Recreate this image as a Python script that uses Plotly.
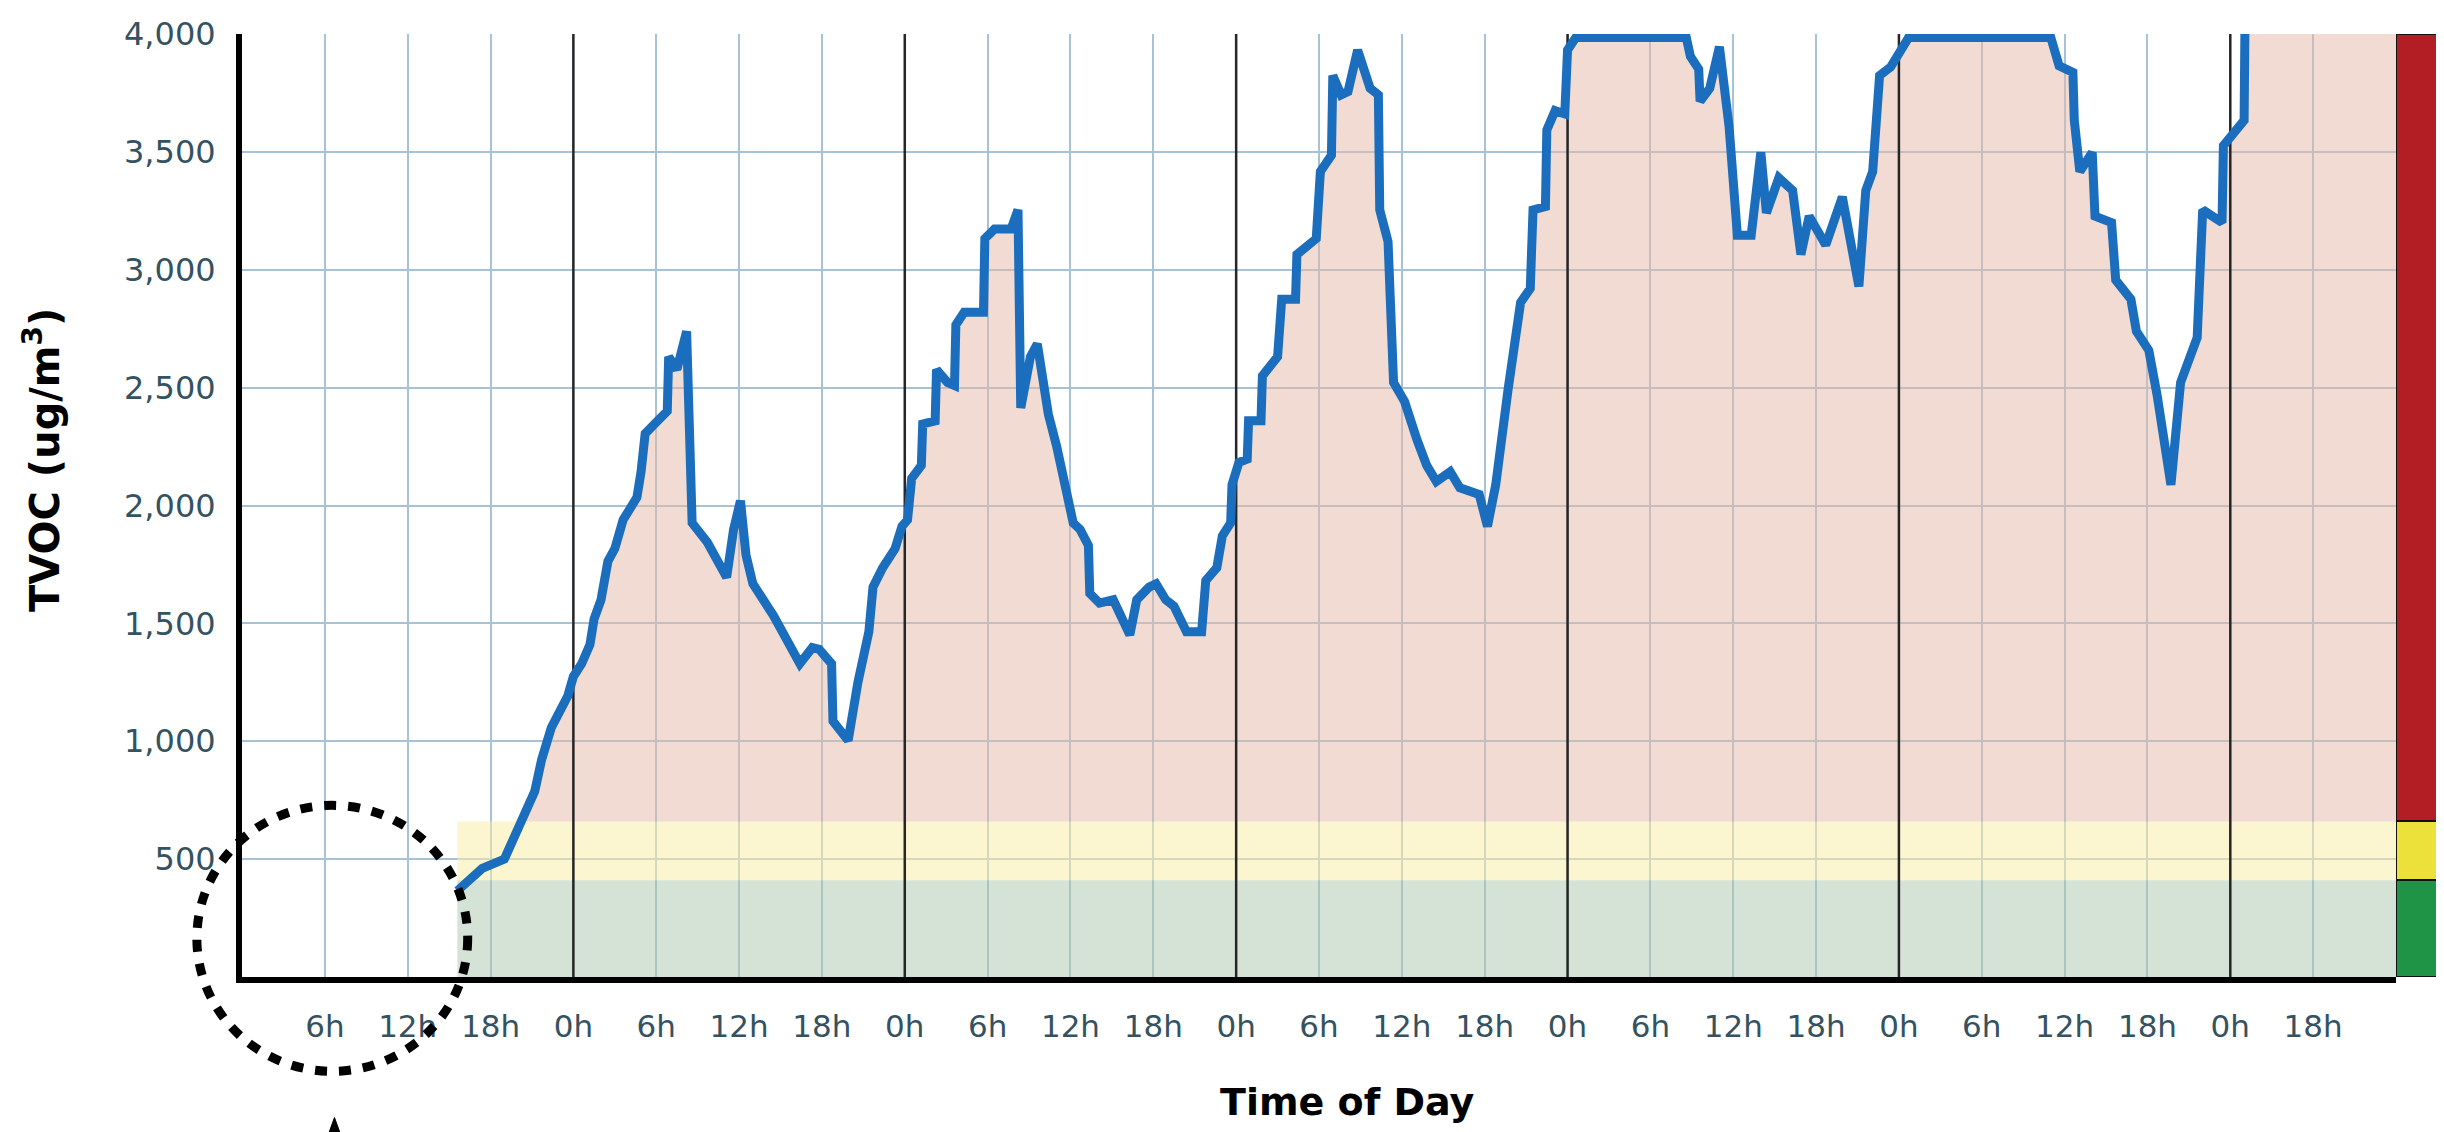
import numpy as np
import plotly.graph_objects as go

# ---------------- data ----------------
hours = [15.6, 17.4, 19.0, 20.0, 21.2, 21.7, 22.4, 23.6, 24.0, 24.6, 25.2, 25.5, 26.0, 26.5,
         27.0, 27.6, 28.1, 28.6, 28.9, 29.2, 30.1, 30.8, 30.9, 31.5, 32.2, 32.6, 33.7, 35.1,
         35.6, 36.1, 36.5, 37.0, 38.5, 39.4, 40.4, 41.3, 41.8, 42.7, 42.8, 43.9, 44.6, 45.4,
         45.7, 46.4, 47.3, 47.8, 48.2, 48.5, 49.2, 49.3, 50.2, 50.3, 51.1, 51.6, 51.7, 52.3,
         53.7, 53.8, 54.5, 55.7, 56.2, 56.4, 57.1, 57.6, 58.4, 59.0, 59.8, 60.2, 60.7, 61.3,
         61.4, 62.1, 63.1, 63.8, 64.3, 64.8, 65.7, 66.2, 66.9, 67.5, 68.4, 69.5, 69.8, 70.6,
         71.0, 71.6, 71.7, 72.2, 72.8, 72.9, 73.8, 73.9, 75.0, 75.3, 76.3, 76.4, 77.8, 78.1,
         78.9, 79.0, 79.6, 80.1, 80.8, 81.7, 82.3, 82.4, 83.0, 83.4, 84.2, 85.1, 85.8, 86.5,
         87.5, 88.2, 89.6, 90.2, 90.8, 91.7, 92.0, 92.5, 92.6, 93.3, 93.5, 94.4, 94.5, 95.1,
         95.8, 96.0, 96.6, 104.6, 104.9, 105.5, 105.6, 106.3, 107.0, 107.7, 108.3, 109.3,
         110.0, 110.4, 111.3, 112.3, 112.9, 113.5, 114.7, 115.9, 117.1, 117.6, 118.1, 118.6,
         119.4, 120.7, 131.0, 131.6, 132.6, 132.7, 133.1, 134.0, 134.2, 135.4, 135.7, 136.8,
         137.2, 138.1, 138.7, 139.7, 140.4, 141.6, 142.0, 143.4, 143.5, 145.0, 145.1, 156.0]

tvoc = [366, 461, 500, 624, 787, 922, 1058, 1193, 1275, 1329, 1410, 1519, 1600, 1763,
        1817, 1939, 1980, 2034, 2143, 2305, 2359, 2400, 2631, 2577, 2739, 1926, 1844, 1695,
        1898, 2020, 1790, 1668, 1532, 1437, 1329, 1397, 1390, 1329, 1085, 1003, 1248, 1465,
        1654, 1736, 1817, 1912, 1939, 2115, 2170, 2346, 2359, 2576, 2522, 2509, 2766, 2820,
        2820, 3132, 3173, 3173, 3254, 2414, 2631, 2685, 2387, 2251, 2034, 1926, 1898, 1831,
        1627, 1586, 1600, 1505, 1451, 1600, 1654, 1668, 1600, 1573, 1465, 1465, 1682, 1736,
        1871, 1926, 2088, 2183, 2197, 2360, 2360, 2550, 2631, 2875, 2875, 3065, 3132, 3417,
        3485, 3824, 3742, 3756, 3932, 3770, 3742, 3254, 3119, 2522, 2441, 2278, 2170, 2102,
        2143, 2075, 2047, 1912, 2088, 2495, 2631, 2848, 2861, 2920, 3254, 3268, 3593, 3675,
        3661, 3932, 3985, 3985, 3905, 3851, 3715, 3770, 3946, 3607, 3146, 3146,
        3498, 3241, 3390, 3336, 3065, 3227, 3105, 3309, 2929, 3336, 3417, 3824,
        3860, 3985, 3985, 3865, 3837, 3634, 3417, 3498, 3227, 3200, 2956, 2875,
        2739, 2658, 2468, 2088, 2522, 2712, 3254, 3200, 3526, 3634, 4300, 4300]

x_range = [0, 156]
tick_hours = [6, 12, 18, 24, 30, 36, 42, 48, 54, 60, 66, 72, 78, 84, 90, 96, 102, 108,
              114, 120, 126, 132, 138, 144, 150]
tick_labels = ["6h", "12h", "18h", "0h", "6h", "12h", "18h", "0h", "6h", "12h", "18h", "0h",
               "6h", "12h", "18h", "0h", "6h", "12h", "18h", "0h", "6h", "12h", "18h", "0h",
               "18h"]
day_lines = [24, 48, 72, 96, 120, 144]
y_ticks = [500, 1000, 1500, 2000, 2500, 3000, 3500, 4000]
y_max = 4000

# air-quality bands (upper limit of each band)
band_good = 410
band_moderate = 660
band_bar_colors = ["#1f9447", "#ece03a", "#b31e24"]

# ---------------- styles ----------------
LINE_BLUE = "#1b6ebe"
GRID = "#a8c2d5"
TICK_COL = "#34525f"
FONT = "DejaVu Sans"

band_x = [hours[0], x_range[1]]

fig = go.Figure()
fig.add_trace(go.Scatter(x=band_x, y=[band_good, band_good], mode="lines",
                         line=dict(width=0), fill="tozeroy",
                         fillcolor="rgba(172,200,174,0.5)", hoverinfo="skip",
                         showlegend=False))
fig.add_trace(go.Scatter(x=band_x, y=[band_moderate, band_moderate], mode="lines",
                         line=dict(width=0), fill="tonexty",
                         fillcolor="rgba(247,236,170,0.55)", hoverinfo="skip",
                         showlegend=False))
fig.add_trace(go.Scatter(x=hours, y=np.maximum(np.array(tvoc), band_moderate), mode="lines",
                         line=dict(width=0), fill="tonexty",
                         fillcolor="rgba(228,184,168,0.5)", hoverinfo="skip",
                         showlegend=False))

# dark midnight lines (drawn above the shading, below the data line)
day_x, day_y = [], []
for d in day_lines:
    day_x += [d, d, None]
    day_y += [0, y_max, None]
fig.add_trace(go.Scatter(x=day_x, y=day_y, mode="lines",
                         line=dict(color="#262626", width=2.5), hoverinfo="skip",
                         showlegend=False))

fig.add_trace(go.Scatter(x=hours, y=tvoc, mode="lines",
                         line=dict(color=LINE_BLUE, width=9), showlegend=False))

# colour scale bar at the right, drawn on a narrow second x-axis sharing the y-axis
limits = [0, band_good, band_moderate, y_max]
for i in range(3):
    fig.add_trace(go.Bar(x=[0], y=[limits[i + 1] - limits[i]], base=[limits[i]],
                         xaxis="x2", yaxis="y", marker=dict(color=band_bar_colors[i],
                         line=dict(color="#111111", width=2)), width=1,
                         showlegend=False, hoverinfo="skip"))

# dotted circle highlight and arrow head below it
fig.add_shape(type="circle", xref="paper", yref="paper",
              x0=-0.0205, x1=0.1025, y0=-0.100, y1=0.182,
              line=dict(color="black", width=9, dash="12px,12px"), layer="above")
fig.add_shape(type="path", xref="paper", yref="paper",
              path="M 0.0375,-0.178 L 0.0420,-0.149 L 0.0465,-0.178 Z",
              fillcolor="black", line=dict(color="black", width=1), layer="above")

# axis titles
fig.add_annotation(xref="paper", yref="paper", x=0.502, y=-0.133, text="<b>Time of Day</b>",
                   showarrow=False, font=dict(family=FONT, size=38, color="black"),
                   xanchor="center", yanchor="middle")
fig.add_annotation(xref="paper", yref="paper", x=-0.0905, y=0.548,
                   text="<b>TVOC (ug/m<sup>3</sup>)</b>", textangle=-90,
                   showarrow=False, font=dict(family=FONT, size=40, color="black"),
                   xanchor="center", yanchor="middle")

fig.update_layout(
    width=2436, height=1124,
    margin=dict(l=234, r=0, t=26, b=155),
    paper_bgcolor="white", plot_bgcolor="white",
    font=dict(family=FONT, color=TICK_COL),
    barmode="overlay", bargap=0,
    xaxis=dict(domain=[0, 0.9782], range=x_range, tickvals=tick_hours, ticktext=tick_labels,
               showgrid=True, gridcolor=GRID, gridwidth=2, zeroline=False,
               showline=True, linecolor="black", linewidth=6, ticks="",
               ticklabelstandoff=17, tickfont=dict(size=31, color=TICK_COL)),
    xaxis2=dict(domain=[0.9782, 1.0], anchor="y", range=[-0.5, 0.5], showgrid=False,
                zeroline=False, showticklabels=False, showline=False, ticks="",
                tickvals=[]),
    yaxis=dict(range=[0, y_max], tickvals=y_ticks, tickformat=",", showgrid=True,
               gridcolor=GRID, gridwidth=2, zeroline=False, showline=True,
               linecolor="black", linewidth=6, ticks="", ticklabelstandoff=14,
               tickfont=dict(size=32, color=TICK_COL)),
)

fig.write_html("out.html")
